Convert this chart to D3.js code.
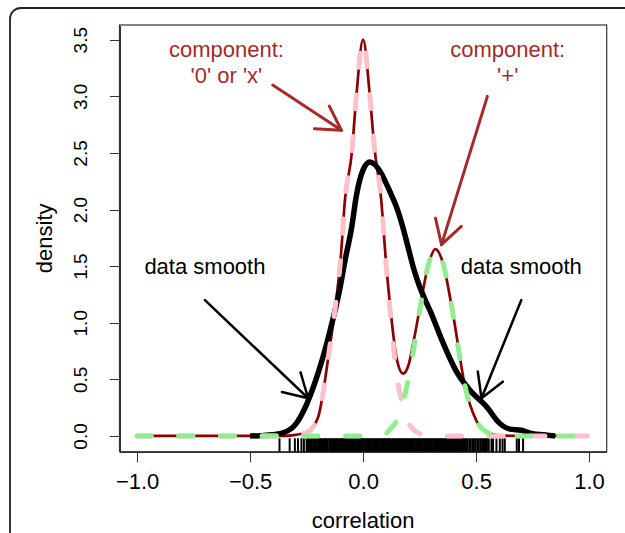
<!DOCTYPE html>
<html>
<meta charset="utf-8">
<style>
body { margin: 0; background: #fff; }
text { font-family: "Liberation Sans", Arial, Helvetica, sans-serif; }
.axis path, .axis line { fill: none; stroke: #333; shape-rendering: crispEdges; }
</style>
<body>
<script src="https://d3js.org/d3.v7.min.js"></script>
<script>
// mixture fit (dark red)
var mixX = [-1, -0.5, -0.35, -0.3, -0.25, -0.2, -0.15, -0.125, -0.1, -0.08, -0.05, -0.03, 0, 0.03, 0.05, 0.08, 0.1, 0.12, 0.15, 0.177, 0.2, 0.22, 0.25, 0.29, 0.32, 0.35, 0.4, 0.45, 0.5, 0.55, 0.6, 0.7, 1];
var mixY = [0, 0, 0, 0.01, 0.03, 0.16, 0.75, 1.11, 1.55, 2.09, 2.5, 3.0, 3.5, 3.0, 2.55, 2.09, 1.57, 1.14, 0.67, 0.55, 0.62, 0.8, 1.12, 1.52, 1.65, 1.55, 1.05, 0.45, 0.14, 0.03, 0.005, 0, 0];

// component '0' or 'x' (pink dashed)
var zeroX = [-1, -0.5, -0.35, -0.3, -0.25, -0.2, -0.15, -0.125, -0.1, -0.08, -0.05, -0.03, 0, 0.03, 0.05, 0.08, 0.1, 0.12, 0.15, 0.18, 0.2, 0.25, 0.3, 0.5, 1];
var zeroY = [0, 0, 0, 0.01, 0.03, 0.16, 0.75, 1.11, 1.55, 2.09, 2.5, 3.0, 3.5, 3.0, 2.55, 2.09, 1.55, 1.1, 0.52, 0.25, 0.12, 0.02, 0, 0, 0];

// component '+' (green dashed)
var plusX = [-1, -0.5, 0, 0.05, 0.1, 0.12, 0.15, 0.17, 0.2, 0.22, 0.25, 0.29, 0.32, 0.35, 0.4, 0.43, 0.45, 0.5, 0.55, 0.6, 0.7, 1];
var plusY = [0, 0, 0, 0.003, 0.02, 0.06, 0.14, 0.25, 0.5, 0.72, 1.1, 1.52, 1.65, 1.55, 1.05, 0.67, 0.45, 0.14, 0.03, 0.005, 0, 0];

// kernel smooth of the data (black)
var smX = [-0.5, -0.45, -0.4, -0.35, -0.3, -0.25, -0.2, -0.15, -0.1, -0.08, -0.05, -0.03, 0, 0.03, 0.05, 0.08, 0.1, 0.125, 0.15, 0.175, 0.2, 0.225, 0.25, 0.275, 0.3, 0.35, 0.41, 0.47, 0.55, 0.6, 0.65, 0.7, 0.75, 0.8, 0.85];
var smY = [0, 0.003, 0.01, 0.03, 0.1, 0.28, 0.55, 0.9, 1.33, 1.55, 1.85, 2.12, 2.35, 2.42, 2.40, 2.32, 2.24, 2.13, 2.01, 1.85, 1.66, 1.47, 1.32, 1.2, 1.09, 0.84, 0.58, 0.41, 0.25, 0.12, 0.06, 0.05, 0.02, 0.01, 0];

// observed correlations (rug)
var rugX = [-0.37, -0.325, -0.302, -0.288, -0.273, -0.262,
  -0.25, -0.244, -0.239, -0.232, -0.227, -0.221, -0.214, -0.209, -0.203, -0.196, -0.191, -0.186, -0.18, -0.173, -0.168, -0.162, -0.157, -0.15, -0.145, -0.139, -0.133, -0.127, -0.121, -0.116, -0.11, -0.104, -0.098, -0.093, -0.087, -0.081, -0.075, -0.07, -0.064, -0.058, -0.052, -0.047, -0.041, -0.035, -0.029, -0.024, -0.018, -0.012, -0.006, -0.001,
  0.005, 0.011, 0.017, 0.022, 0.028, 0.034, 0.04, 0.045, 0.051, 0.057, 0.063, 0.068, 0.074, 0.08, 0.086, 0.091, 0.097, 0.103, 0.109, 0.114, 0.12, 0.126, 0.132, 0.137, 0.143, 0.149, 0.155, 0.16, 0.166, 0.172, 0.178, 0.183, 0.189, 0.195, 0.201, 0.206, 0.212, 0.218, 0.224, 0.229, 0.235, 0.241, 0.247, 0.252, 0.258, 0.264, 0.27, 0.275, 0.281, 0.287, 0.293, 0.298, 0.304, 0.31, 0.316, 0.321, 0.327, 0.333, 0.339, 0.344, 0.35, 0.356, 0.362, 0.367, 0.373, 0.379, 0.385, 0.39, 0.396, 0.402, 0.408, 0.413, 0.419, 0.425, 0.431, 0.436, 0.442, 0.448,
  0.455, 0.462, 0.47, 0.476, 0.484, 0.49, 0.497, 0.505, 0.512, 0.52, 0.527, 0.535, 0.541, 0.548, 0.556,
  0.568, 0.575, 0.59, 0.605, 0.617, 0.627, 0.68, 0.69, 0.708];

var xTicks = [-1, -0.5, 0, 0.5, 1];
var yTicks = [0, 0.5, 1, 1.5, 2, 2.5, 3, 3.5];

// annotations, data coordinates
var labels = [
  {x: -0.605, y: 3.3, lines: ["component:", "'0' or 'x'"], color: "#a52a2a"},
  {x: 0.64, y: 3.3, lines: ["component:", "'+'"], color: "#a52a2a"},
  {x: -0.7, y: 1.5, lines: ["data smooth"], color: "#000"},
  {x: 0.7, y: 1.5, lines: ["data smooth"], color: "#000"}
];
var arrows = [
  {x0: -0.4, y0: 3.1, x1: -0.096, y1: 2.7, color: "#a52a2a", w: 3},
  {x0: 0.55, y0: 3.0, x1: 0.347, y1: 1.69, color: "#a52a2a", w: 3},
  {x0: -0.7, y0: 1.2, x1: -0.243, y1: 0.333, color: "#000", w: 2.5},
  {x0: 0.7, y0: 1.2, x1: 0.524, y1: 0.333, color: "#000", w: 2.5}
];

var W = 625, H = 533;
var box = {left: 119.5, top: 25, right: 606.7, bottom: 451.7};

var svg = d3.select("body").append("svg")
    .attr("width", W)
    .attr("height", H);

// outer panel frame (runs off the picture on the right and bottom)
svg.append("rect")
    .attr("x", 10).attr("y", 8)
    .attr("width", 720).attr("height", 620)
    .attr("rx", 11)
    .style("fill", "none")
    .style("stroke", "#222")
    .style("stroke-width", 1.8);

var x = d3.scaleLinear().domain([-1.078, 1.078]).range([box.left, box.right]);
var y = d3.scaleLinear().domain([-0.139, 3.63]).range([box.bottom, box.top]);

var fmt = d3.format(".1f");

// x axis
var gx = svg.append("g")
    .attr("class", "axis")
    .attr("transform", "translate(0," + box.bottom + ")")
    .call(d3.axisBottom(x).tickValues(xTicks).tickFormat(fmt).tickSize(10).tickSizeOuter(0));
gx.selectAll("text")
    .attr("y", 0).attr("dy", 0)
    .attr("transform", "translate(0,37.5)")
    .style("font-size", "22px")
    .style("fill", "#000");

// y axis, labels parallel to the axis
var gy = svg.append("g")
    .attr("class", "axis")
    .attr("transform", "translate(" + box.left + ",0)")
    .call(d3.axisLeft(y).tickValues(yTicks).tickFormat(fmt).tickSize(10).tickSizeOuter(0));
gy.selectAll("text")
    .attr("x", 0).attr("dy", 0)
    .attr("text-anchor", "middle")
    .attr("transform", "translate(-32.5,0) rotate(-90)")
    .style("font-size", "19px")
    .style("fill", "#000");

// plot box
svg.append("rect")
    .attr("x", box.left).attr("y", box.top)
    .attr("width", box.right - box.left)
    .attr("height", box.bottom - box.top)
    .style("fill", "none")
    .style("stroke", "#333")
    .style("stroke-width", 1.2);

// axis titles
svg.append("text")
    .attr("x", (box.left + box.right) / 2)
    .attr("y", 528)
    .attr("text-anchor", "middle")
    .style("font-size", "22px")
    .text("correlation");

svg.append("text")
    .attr("transform", "translate(52," + ((box.top + box.bottom) / 2) + ") rotate(-90)")
    .attr("text-anchor", "middle")
    .style("font-size", "22px")
    .text("density");

// rug
svg.append("g").selectAll("line")
    .data(rugX)
  .enter().append("line")
    .attr("x1", function(d) { return x(d); })
    .attr("x2", function(d) { return x(d); })
    .attr("y1", box.bottom)
    .attr("y2", box.bottom - 13.4)
    .style("stroke", "#000")
    .style("stroke-width", 2);

function curve(xs, ys) {
  return d3.line()
    .x(function(d, i) { return x(xs[i]); })
    .y(function(d, i) { return y(ys[i]); })
    .curve(d3.curveMonotoneX)(xs);
}

var plot = svg.append("g");

plot.append("path")
    .attr("d", curve(mixX, mixY))
    .style("fill", "none")
    .style("stroke", "#8b0000")
    .style("stroke-width", 2.7);

plot.append("path")
    .attr("d", curve(smX, smY))
    .style("fill", "none")
    .style("stroke", "#000")
    .style("stroke-width", 5.5)
    .style("stroke-linejoin", "round");

plot.append("path")
    .attr("d", curve(zeroX, zeroY))
    .style("fill", "none")
    .style("stroke", "#ffc0cb")
    .style("stroke-width", 5)
    .style("stroke-linecap", "round")
    .style("stroke-dasharray", "14,27.7");

plot.append("path")
    .attr("d", curve(plusX, plusY))
    .style("fill", "none")
    .style("stroke", "#90ee90")
    .style("stroke-width", 5)
    .style("stroke-linecap", "round")
    .style("stroke-dasharray", "14,27.7");

// arrows with open heads
var head = 27, ang = Math.PI / 6;
arrows.forEach(function(a) {
  var px0 = x(a.x0), py0 = y(a.y0), px1 = x(a.x1), py1 = y(a.y1);
  var t = Math.atan2(py1 - py0, px1 - px0);
  var g = svg.append("g")
      .style("stroke", a.color)
      .style("stroke-width", a.w)
      .style("fill", "none")
      .style("stroke-linecap", "round");
  g.append("line").attr("x1", px0).attr("y1", py0).attr("x2", px1).attr("y2", py1);
  [-ang, ang].forEach(function(s) {
    g.append("line")
        .attr("x1", px1).attr("y1", py1)
        .attr("x2", px1 - head * Math.cos(t + s))
        .attr("y2", py1 - head * Math.sin(t + s));
  });
});

// annotation text
labels.forEach(function(l) {
  var n = l.lines.length;
  var cy = y(l.y);
  l.lines.forEach(function(s, i) {
    svg.append("text")
        .attr("x", x(l.x))
        .attr("y", cy + 8 + (i - (n - 1) / 2) * 26)
        .attr("text-anchor", "middle")
        .style("font-size", "22px")
        .style("fill", l.color)
        .text(s);
  });
});
</script>
</body>
</html>
